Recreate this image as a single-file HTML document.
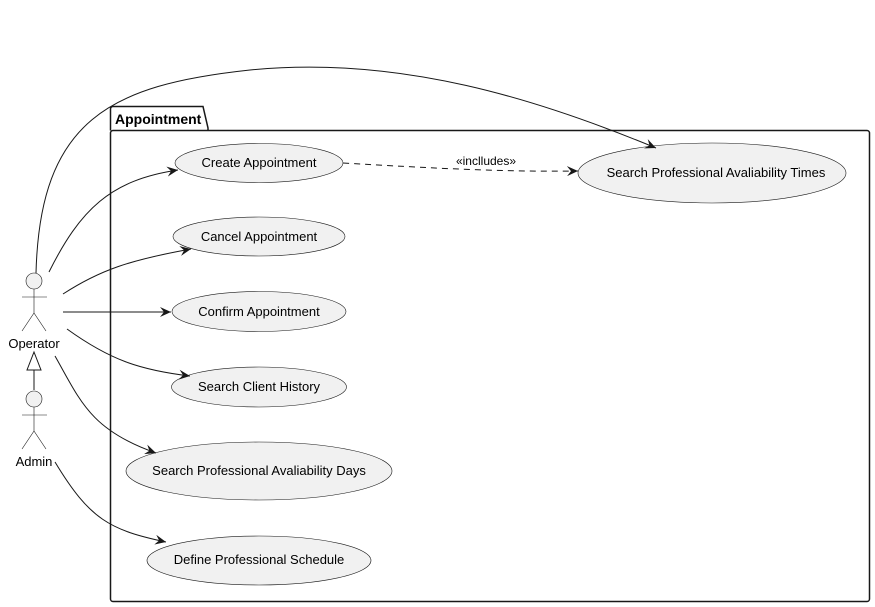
<!DOCTYPE html>
<html><head><style>body{margin:0;background:#fff}svg{display:block}</style></head>
<body>
<svg width="875" height="607" viewBox="0 0 875 607" xmlns="http://www.w3.org/2000/svg" font-family="Liberation Sans, sans-serif">
<defs>
<marker id="a" markerWidth="12" markerHeight="10" refX="11" refY="5" orient="auto" markerUnits="userSpaceOnUse">
<path d="M0,0 L11,5 L0,10 L4,5 Z" fill="#181818"/>
</marker>
</defs>
<!-- package -->
<path d="M110.5,130.5 L110.5,109 Q110.5,106.5 113,106.5 L203,106.5 L208,128 L208,130.5" fill="none" stroke="#181818" stroke-width="1.5"/>
<rect x="110.5" y="130.5" width="759" height="471" rx="2.5" fill="none" stroke="#181818" stroke-width="1.5"/>
<text x="115" y="124" font-size="14" font-weight="bold">Appointment</text>
<!-- ellipses -->
<g fill="#f1f1f1" stroke="#181818" stroke-width="0.6">
<ellipse cx="259" cy="163" rx="84" ry="19.5"/>
<ellipse cx="259" cy="236.5" rx="86" ry="19.5"/>
<ellipse cx="259" cy="311.5" rx="87" ry="20"/>
<ellipse cx="259" cy="387" rx="87.5" ry="20"/>
<ellipse cx="259" cy="471" rx="133" ry="29"/>
<ellipse cx="259" cy="560.5" rx="112" ry="24.5"/>
<ellipse cx="712" cy="173" rx="134" ry="30"/>
</g>
<g font-size="13" text-anchor="middle" fill="#000">
<text x="259" y="167">Create Appointment</text>
<text x="259" y="241">Cancel Appointment</text>
<text x="259" y="316">Confirm Appointment</text>
<text x="259" y="391">Search Client History</text>
<text x="259" y="475">Search Professional Avaliability Days</text>
<text x="259" y="564">Define Professional Schedule</text>
<text x="716" y="177">Search Professional Avaliability Times</text>
</g>
<!-- actors -->
<g fill="#f1f1f1" stroke="#181818" stroke-width="0.6">
<circle cx="34" cy="281" r="8"/>
<circle cx="34" cy="399" r="8"/>
</g>
<g stroke="#181818" stroke-width="0.6" fill="none">
<path d="M34,289 V313 M22,297 H47 M34,313 L22,331 M34,313 L46,331"/>
<path d="M34,407 V431 M22,415 H47 M34,431 L22,449 M34,431 L46,449"/>
</g>
<text x="34" y="348" font-size="13" text-anchor="middle">Operator</text>
<text x="34" y="466" font-size="13" text-anchor="middle">Admin</text>
<!-- generalization -->
<path d="M34,390 V370" stroke="#181818" fill="none"/>
<path d="M34,352 L41,370 L27,370 Z" fill="#fff" stroke="#181818"/>
<!-- connectors -->
<g stroke="#181818" fill="none" stroke-width="1" marker-end="url(#a)">
<path d="M36,273 C40,120 110,85 250,70 C400,55 540,100 656,148"/>
<path d="M49,272 C80,210 110,180 178,170"/>
<path d="M63,294 C100,270 130,260 191,249"/>
<path d="M63,312 H171"/>
<path d="M67,329 C110,360 140,370 190,376"/>
<path d="M55,356 C80,400 90,430 156,453"/>
<path d="M55,462 C90,520 110,530 166,542"/>
<path d="M343,163 C430,168 500,172 578,171" stroke-dasharray="6,5"/>
</g>
<text x="486" y="165" font-size="12" text-anchor="middle">«inclludes»</text>
</svg>
</body></html>
